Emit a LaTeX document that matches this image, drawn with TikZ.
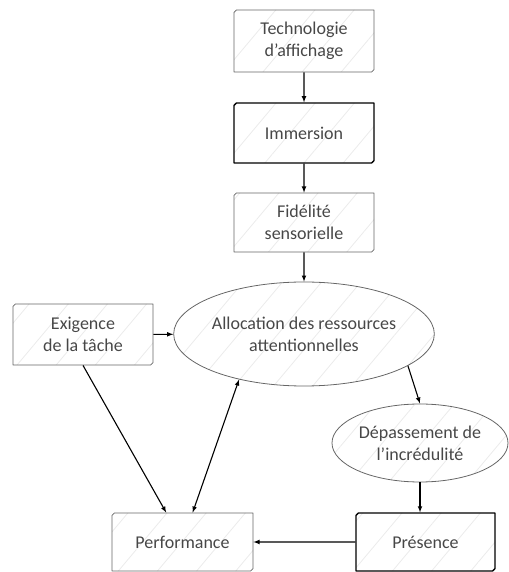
\documentclass[tikz,border=0pt]{standalone}
\usepackage{fontspec}
\setmainfont{Carlito}
\usetikzlibrary{shapes.misc,shapes.geometric,patterns.meta}
\tikzset{
  hatch/.style={pattern={Lines[angle=50,distance=30bp,line width=0.8bp]},pattern color=black!8},
  box/.style={chamfered rectangle,chamfered rectangle corners={north west,south east},
    chamfered rectangle xsep=1.2bp,chamfered rectangle ysep=1.2bp,draw=black!60,line width=0.8bp,
    minimum width=140bp,minimum height=60bp,inner sep=0pt,align=center,text=black!72,
    font=\fontsize{18bp}{22bp}\selectfont,hatch},
  strongbox/.style={box,draw=black,line width=1.3bp},
  oval/.style={ellipse,draw=black!60,line width=0.8bp,inner sep=0pt,align=center,
    text=black!72,font=\fontsize{18bp}{22bp}\selectfont,hatch},
}
\begin{document}
\begin{tikzpicture}[>=latex,line join=bevel,line width=1.1bp]
%%
\useasboundingbox (0bp,0bp) rectangle (509bp,572bp);
\node (techno) at (304bp,531bp) [box,minimum height=62bp] {Technologie\\d'affichage};
  \node (immersion) at (304bp,439bp) [strongbox] {Immersion};
  \node (fidelite) at (304bp,349.5bp) [box,minimum height=59bp] {Fidélité\\sensorielle};
  \node (alloc) at (304bp,238bp) [oval,minimum width=244bp,minimum height=104bp] {Allocation des ressources\\attentionnelles};
  \node (exigence) at (83bp,237.5bp) [box,minimum height=61bp] {Exigence\\de la tâche};
  \node (depass) at (420bp,129bp) [oval,minimum width=176bp,minimum height=78bp] {Dépassement de\\l'incrédulité};
  \node (perf) at (182.5bp,30bp) [box,minimum width=141bp,minimum height=58bp] {Performance};
  \node (presence) at (425.5bp,30bp) [strongbox,minimum width=139bp,minimum height=58bp] {Présence};
  \draw [->,solid] (techno) -- (immersion);
  \draw [->,solid] (immersion) -- (fidelite);
  \draw [->,solid] (fidelite) -- (alloc);
  \draw [->,solid] (exigence) -- (alloc);
  \draw [->,solid] (alloc.-17) -- (depass.north);
  \draw [->,solid] (depass.south) -- (depass.south |- presence.north);
  \draw [->,solid] (presence) -- (perf);
  \draw [->,solid] (exigence.south) -- (perf.119);
  \draw [<->,solid] (perf.71) -- (alloc.-145);
%
\end{tikzpicture}
\end{document}
